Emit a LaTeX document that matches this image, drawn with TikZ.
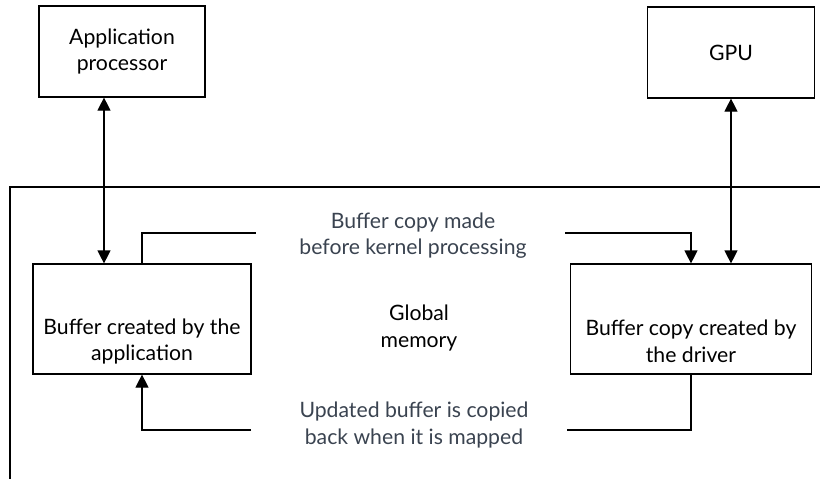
\documentclass[tikz,border=0pt]{standalone}
\usepackage{fontspec}
\setmainfont{Lato}
\usetikzlibrary{arrows.meta}
\definecolor{lbl}{HTML}{3A4350}
\begin{document}
\begin{tikzpicture}[x=1pt,y=-1pt,
  every node/.style={font=\fontsize{21.2}{26.5}\selectfont},
  box/.style={draw,line width=1.2pt,minimum width=#1,inner sep=0pt},
  conn/.style={line width=1.2pt},
  arr/.style={conn,-{Triangle[width=13pt,length=13pt]}},
  darr/.style={conn,{Triangle[width=13pt,length=13pt]}-{Triangle[width=13pt,length=13pt]}},
  txt/.style={align=center,inner sep=0pt},
  lab/.style={txt,text=lbl}]
\useasboundingbox (0,0) rectangle (820,479);
% global memory outline
\draw[conn] (10,479) -- (10,187) -- (820,187);
\node[box=166pt,minimum height=91pt,txt] (AP) at (122,51.5) {Application\\processor};
\node[box=167pt,minimum height=91pt,txt] (GPU) at (731,52.5) {GPU};
\node[box=218pt,minimum height=110pt] (BA) at (142,319) {};
\node[box=241pt,minimum height=110pt] (BD) at (691,319) {};
\node[txt] (BAt) at (142,341.5) {Buffer created by the\\application};
\node[txt] (BDt) at (691,341.5) {Buffer copy created by\\the driver};
\node[txt] (GM) at (419,328) {Global\\memory};
\node[lab] (L1) at (413,235.5) {Buffer copy made\\before kernel processing};
\node[lab] (L2) at (414,425) {Updated buffer is copied\\back when it is mapped};
\coordinate (c1) at (104,0);
\coordinate (t1l) at (256,233);
\coordinate (t1r) at (565,233);
\coordinate (t2l) at (251,430);
\coordinate (t2r) at (567,430);
\draw[darr] (AP.south -| c1) -- (BA.north -| c1);
\draw[darr] (GPU.south) -- (BD.north -| GPU.south);
\draw[conn] (BA.north) |- (t1l);
\draw[arr] (t1r) -| (BD.north);
\draw[conn] (BD.south) |- (t2r);
\draw[arr] (t2l) -| (BA.south);
\end{tikzpicture}
\end{document}
